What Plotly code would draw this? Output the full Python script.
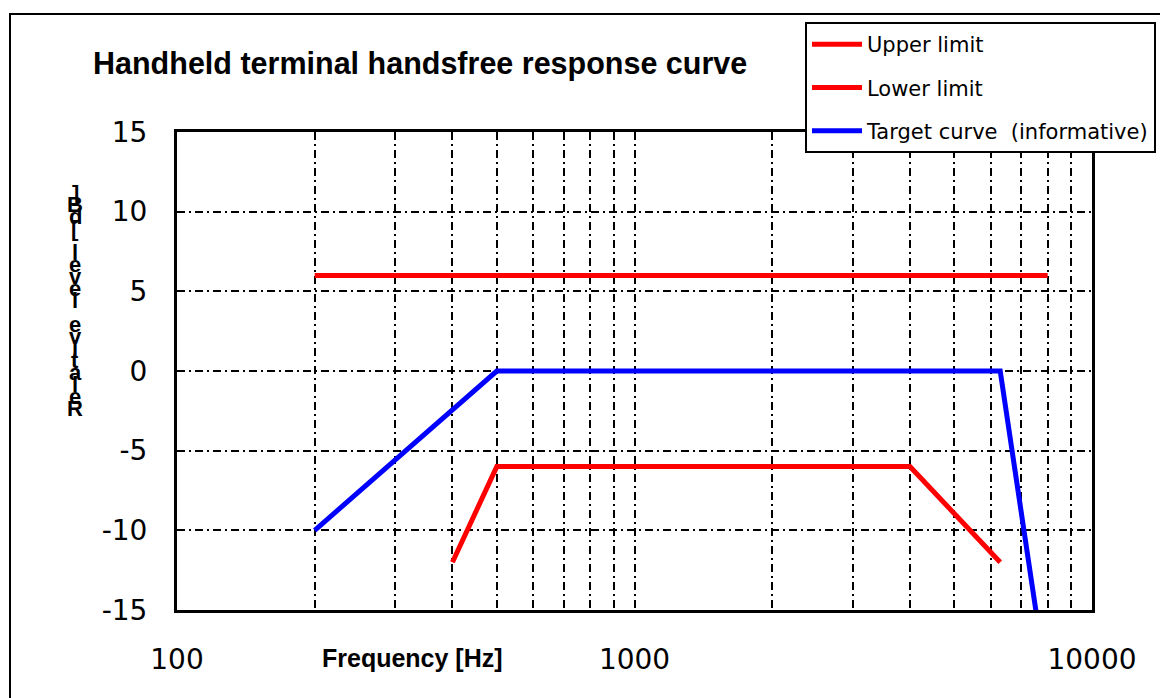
import plotly.graph_objects as go

# ---- data ----
freq_upper = [200, 8000]
level_upper = [6, 6]

freq_lower = [400, 500, 4000, 6300]
level_lower = [-12, -6, -6, -12]

freq_target = [200, 500, 6300, 8000]
level_target = [-10, 0, 0, -20]

x_tick_vals = [100, 1000, 10000]
x_tick_text = ["100", "1000", "10000"]
x_minor_vals = [200, 300, 400, 500, 600, 700, 800, 900,
                2000, 3000, 4000, 5000, 6000, 7000, 8000, 9000]
y_tick_vals = [-15, -10, -5, 0, 5, 10, 15]
y_tick_text = ["-15", "-10", "-5", "0", "5", "10", "15"]

title_text = "Handheld terminal handsfree response curve"
x_title = "Frequency [Hz]"
y_title = "Relative level [dB]"

# ---- layout geometry ----
W, H = 1160, 698
L, R, T, B = 177, 68, 132, 88
PW, PH = W - L - R, H - T - B


def px(xp):
    return (xp - L) / PW


def py(yp):
    return (H - B - yp) / PH


DASH = "8px,4px,2px,4px"

fig = go.Figure()
fig.add_trace(go.Scatter(x=freq_upper, y=level_upper, mode="lines", name="Upper limit",
                         line=dict(color="#FF0000", width=5), legendgroup="a"))
fig.add_trace(go.Scatter(x=freq_lower, y=level_lower, mode="lines", name="Lower limit",
                         line=dict(color="#FF0000", width=5), legendgroup="b"))
fig.add_trace(go.Scatter(x=freq_target, y=level_target, mode="lines",
                         name="Target curve  (informative)",
                         line=dict(color="#0000FF", width=5), legendgroup="c"))

annotations = [
    dict(text=x_title, x=px(412), y=py(658), xref="paper", yref="paper",
         xanchor="center", yanchor="middle", showarrow=False,
         font=dict(family="Liberation Sans", size=25, color="black", weight="bold")),
]
# stacked (unrotated) characters of the y-axis title, bottom to top
n = len(y_title)
y_bot, y_top = 408, 193
for i, ch in enumerate(y_title):
    if ch == " ":
        continue
    yy = y_bot - i * (y_bot - y_top) / (n - 1)
    annotations.append(dict(text=ch, x=px(75), y=py(yy), xref="paper", yref="paper",
                            xanchor="center", yanchor="middle", showarrow=False,
                            font=dict(family="Liberation Sans", size=22, color="black",
                                      weight="bold")))

fig.update_layout(
    width=W, height=H,
    margin=dict(l=L, r=R, t=T, b=B, autoexpand=False),
    paper_bgcolor="white", plot_bgcolor="white",
    title=dict(text=title_text, x=93 / W, xanchor="left", xref="container",
               y=1 - 63 / H, yanchor="middle", yref="container",
               font=dict(family="Liberation Sans", size=30.5, color="black", weight="bold")),
    showlegend=True,
    legend=dict(x=px(805), y=py(22), xanchor="left", yanchor="top",
                bgcolor="white", bordercolor="black", borderwidth=2,
                font=dict(family="DejaVu Sans", size=21, color="black"),
                tracegroupgap=13, itemwidth=50, traceorder="grouped"),
    annotations=annotations,
    shapes=[dict(type="rect", xref="paper", yref="paper",
                 x0=px(10), x1=px(1175), y0=py(715), y1=py(14),
                 line=dict(color="black", width=2), fillcolor="rgba(0,0,0,0)")],
)

fig.update_xaxes(
    type="log", range=[2, 4],
    tickvals=x_tick_vals, ticktext=x_tick_text, ticks="",
    tickfont=dict(family="DejaVu Sans", size=28, color="black"),
    ticklabelstandoff=22,
    showgrid=True, gridcolor="black", gridwidth=2, griddash=DASH,
    minor=dict(tickvals=x_minor_vals, showgrid=True, gridcolor="black",
               gridwidth=2, griddash=DASH, ticks=""),
    showline=True, linecolor="black", linewidth=3, mirror=True,
)
fig.update_yaxes(
    range=[-15, 15], tickvals=y_tick_vals, ticktext=y_tick_text, ticks="",
    tickfont=dict(family="DejaVu Sans", size=28, color="black"),
    ticklabelstandoff=21,
    showgrid=True, gridcolor="black", gridwidth=2, griddash=DASH,
    zeroline=False,
    showline=True, linecolor="black", linewidth=3, mirror=True,
)

fig.write_html("out.html", config={"displayModeBar": False},
               post_script="document.body.style.margin='0';document.body.style.overflow='hidden';")
